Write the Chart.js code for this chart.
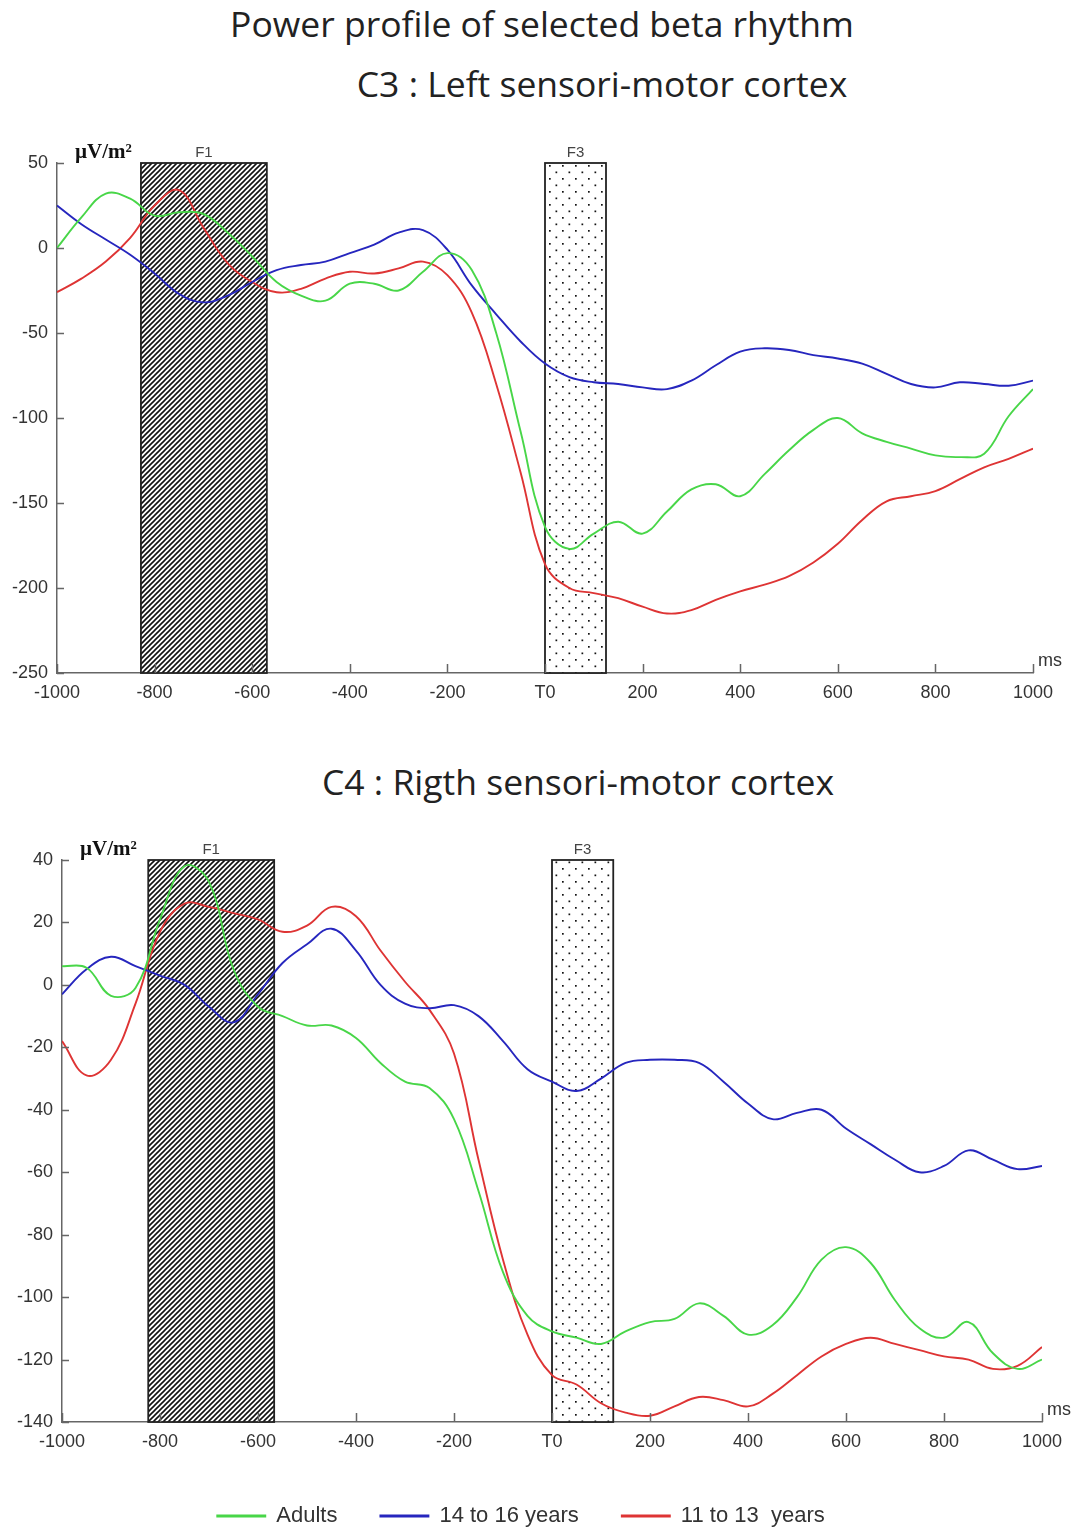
<!DOCTYPE html>
<html>
<head>
<meta charset="utf-8">
<script src="https://cdn.jsdelivr.net/npm/chart.js@4.4.1/dist/chart.umd.min.js"></script>
<style>
    html, body { margin: 0; padding: 0; background: #fff; overflow: hidden; }
    #page { position: relative; width: 1082px; height: 1530px; }
    .title { position: absolute; font-family: "Open Sans", sans-serif; color: #222; line-height: 1; white-space: nowrap; }
    canvas { position: absolute; left: 0; }
</style>
</head>
<body>
<div id="page">
    <div class="title" style="left:542px; transform:translateX(-50%); top:6px; font-size:35.5px;">Power profile of selected beta rhythm</div>
    <div class="title" style="left:602px; transform:translateX(-50%); top:66px; font-size:35.5px;">C3 : Left sensori-motor cortex</div>
    <div class="title" style="left:578px; transform:translateX(-50%); top:764px; font-size:35.5px;">C4 : Rigth sensori-motor cortex</div>
    <canvas id="chartC3" width="1082" height="600" style="top:110px"></canvas>
    <canvas id="chartC4" width="1082" height="740" style="top:800px"></canvas>
</div>
<script>
//----------------------------- Data -----------------------------------
const times = [-1000, -950, -900, -850, -800, -750, -700, -650, -600, -550, -500, -450, -400, -350, -300, -250, -200, -150, -100, -50,
    0, 50, 100, 150, 200, 250, 300, 350, 400, 450, 500, 550, 600, 650, 700, 750, 800, 850, 900, 950, 1000];
const seriesNames = ['Adults', '14 to 16 years', '11 to 13  years'];

// C3 : left sensori-motor cortex (µV/m²)
const c3Adults = [0, 18, 32, 29, 19, 21, 20, 9, -5, -20, -28, -31, -21, -21, -25, -14, -3, -13, -50, -108,
    -164, -177, -168, -161, -168, -155, -142, -139, -146, -133, -119, -107, -100, -109, -114, -118, -122, -123, -121, -99, -83];
const c3Teens = [25, 14, 5, -4, -15, -27, -32, -28, -20, -13, -10, -8, -3, 2, 9, 10.5, -1, -22, -39, -55,
    -68, -76, -79, -80, -82, -83, -78, -69, -61, -59, -60, -63, -65, -68, -74, -80, -82, -79, -80, -81, -78];
const c3Kids = [-26, -18, -8, 6, 25, 34, 12, -9, -20, -26, -24, -18, -14, -15, -12, -8, -16, -38, -80, -132,
    -186, -200, -203, -206, -211, -215, -213, -207, -202, -198, -193, -185, -174, -160, -149, -146, -143, -136, -129, -124, -118];

// C4 : right sensori-motor cortex (µV/m²)
const c4Adults = [6, 5.5, -3.5, -1, 21, 38, 33, 5, -7, -10, -13, -13, -17, -25, -31, -33, -43, -66, -92, -106,
    -111, -113, -115, -111, -108, -107, -102, -106, -112, -109, -100, -88, -84, -89, -101, -110, -113, -108, -118, -123, -120];
const c4Teens = [-3, 5, 9, 6, 3, 0, -7, -12, -3, 7, 13, 18, 11, 0, -6, -7.5, -6.5, -10, -18, -27,
    -31, -34, -30, -25, -24, -24, -25, -31, -38, -43, -41, -40, -46, -51, -56, -60, -58, -53, -56, -59, -58];
const c4Kids = [-18, -29, -24, -6, 17, 26, 25, 23, 21, 17, 19, 25, 22, 11, 1, -8, -22, -56, -88, -112,
    -125, -128, -134, -137, -138, -135, -132, -133, -135, -131, -125, -119, -115, -113, -115, -117, -119, -120, -123, -122, -116];

// analysis windows [label, from ms, to ms]
const windowsC3 = [['F1', -828, -570], ['F3', 0, 125]];
const windowsC4 = [['F1', -824, -567], ['F3', 0, 125]];

const xTicks = [-1000, -800, -600, -400, -200, 0, 200, 400, 600, 800, 1000];

//----------------------------- Styling -----------------------------------
const colors = ['rgb(72, 214, 72)', 'rgb(38, 38, 190)', 'rgb(222, 52, 52)'];
const fontColor = '#333';
const axisColor = '#666';
const sansFont = '"Liberation Sans", Arial, sans-serif';

function makeHatch(ctx) {
    const c = document.createElement('canvas');
    c.width = c.height = 5;
    const g = c.getContext('2d');
    g.fillStyle = '#fff';
    g.fillRect(0, 0, 5, 5);
    g.strokeStyle = '#111';
    g.lineWidth = 1.6;
    g.beginPath();
    g.moveTo(-1, 6); g.lineTo(6, -1);
    g.moveTo(-1, 1); g.lineTo(1, -1);
    g.moveTo(4, 6); g.lineTo(6, 4);
    g.stroke();
    return ctx.createPattern(c, 'repeat');
}

function makeDots(ctx) {
    const c = document.createElement('canvas');
    c.width = 13; c.height = 13;
    const g = c.getContext('2d');
    g.fillStyle = '#fff';
    g.fillRect(0, 0, 13, 13);
    g.fillStyle = '#111';
    g.fillRect(3, 3, 1.7, 1.7);
    g.fillRect(9.5, 9.5, 1.7, 1.7);
    return ctx.createPattern(c, 'repeat');
}

// windows, inward tick marks, unit labels
const decorPlugin = {
    id: 'decor',
    beforeDatasetsDraw(chart, args, opts) {
        const {ctx, chartArea, scales: {x}} = chart;
        ctx.save();
        opts.windows.forEach(([label, from, to], i) => {
            const x1 = x.getPixelForValue(from);
            const x2 = x.getPixelForValue(to);
            ctx.fillStyle = i === 0 ? makeHatch(ctx) : makeDots(ctx);
            ctx.fillRect(x1, chartArea.top, x2 - x1, chartArea.bottom - chartArea.top);
            ctx.strokeStyle = '#222';
            ctx.lineWidth = 1.8;
            ctx.strokeRect(x1, chartArea.top, x2 - x1, chartArea.bottom - chartArea.top);
            ctx.fillStyle = '#444';
            ctx.font = '15px ' + sansFont;
            ctx.textAlign = 'center';
            ctx.textBaseline = 'bottom';
            ctx.fillText(label, (x1 + x2) / 2, chartArea.top - 3);
        });
        ctx.restore();
    },
    afterDraw(chart) {
        const {ctx, chartArea, scales: {x, y}} = chart;
        ctx.save();
        ctx.strokeStyle = axisColor;
        ctx.lineWidth = 1.5;
        ctx.beginPath();
        y.ticks.forEach(t => {
            const py = Math.round(y.getPixelForValue(t.value)) + 0.5;
            ctx.moveTo(chartArea.left, py);
            ctx.lineTo(chartArea.left + 7, py);
        });
        x.ticks.forEach(t => {
            const px = Math.round(x.getPixelForValue(t.value)) + 0.5;
            ctx.moveTo(px, chartArea.bottom);
            ctx.lineTo(px, chartArea.bottom - 9);
        });
        ctx.stroke();
        ctx.fillStyle = '#111';
        ctx.font = 'bold 21px "Liberation Serif", "Times New Roman", serif';
        ctx.textAlign = 'left';
        ctx.textBaseline = 'bottom';
        ctx.fillText('µV/m²', chartArea.left + 18, chartArea.top);
        ctx.fillStyle = fontColor;
        ctx.font = '18px ' + sansFont;
        ctx.fillText('ms', chartArea.right + 5, chartArea.bottom - 3);
        ctx.restore();
    }
};

function makeChart(canvasId, values, windows, yMin, yMax, yStep, sizes) {
    const ctx = document.getElementById(canvasId);
    const datasets = values.map((vals, i) => ({
        label: seriesNames[i],
        data: times.map((t, j) => ({x: t, y: vals[j]})),
        borderColor: colors[i],
        backgroundColor: colors[i],
        borderWidth: 1.9,
        pointRadius: 0,
        tension: 0.4,
        fill: false
    }));
    return new Chart(ctx, {
        type: 'line',
        data: {datasets: datasets},
        options: {
            responsive: false,
            animation: false,
            events: [],
            layout: {padding: {top: sizes.top, right: sizes.right, left: 0, bottom: sizes.bottom}},
            plugins: {
                legend: sizes.legend ? {
                    display: true,
                    position: 'bottom',
                    labels: {
                        color: fontColor,
                        font: {size: 22, family: sansFont},
                        boxWidth: 48,
                        boxHeight: 1,
                        padding: 43
                    }
                } : {display: false},
                tooltip: {enabled: false},
                decor: {windows: windows}
            },
            scales: {
                x: {
                    type: 'linear',
                    min: -1000,
                    max: 1000,
                    afterBuildTicks: scale => { scale.ticks = xTicks.map(v => ({value: v})); },
                    afterFit: scale => { scale.height = sizes.xHeight; },
                    grid: {display: false, drawTicks: false},
                    border: {display: true, color: axisColor, width: 1.5},
                    ticks: {
                        color: fontColor,
                        padding: 9,
                        maxRotation: 0,
                        autoSkip: false,
                        font: {size: 18, family: sansFont},
                        callback: v => v === 0 ? 'T0' : String(v)
                    }
                },
                y: {
                    min: yMin,
                    max: yMax,
                    afterFit: scale => { scale.width = sizes.yWidth; },
                    grid: {display: false, drawTicks: false},
                    border: {display: true, color: axisColor, width: 1.5},
                    ticks: {
                        stepSize: yStep,
                        color: fontColor,
                        padding: 9,
                        font: {size: 18, family: sansFont}
                    }
                }
            }
        },
        plugins: [decorPlugin]
    });
}

makeChart('chartC3', [c3Adults, c3Teens, c3Kids], windowsC3, -250, 50, 50,
    {top: 53, right: 49, bottom: 0, xHeight: 37, yWidth: 57, legend: false});
makeChart('chartC4', [c4Adults, c4Teens, c4Kids], windowsC4, -140, 40, 20,
    {top: 60, right: 40, bottom: 3, xHeight: 40, yWidth: 62, legend: true});
</script>
</body>
</html>
